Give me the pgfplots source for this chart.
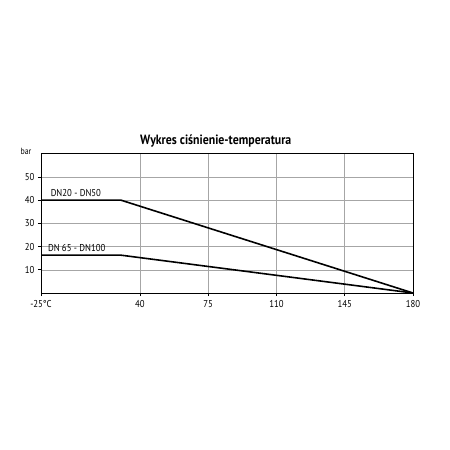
\documentclass[border=0pt]{standalone}
\usepackage{pgfplots}
\pgfplotsset{compat=1.18}
\usepackage{fontspec}
\setmainfont{PT Sans}[FakeStretch=0.88]
\begin{document}
\begin{tikzpicture}
\path[use as bounding box] (0,0) rectangle (450bp,-450bp);
\begin{axis}[
  at={(41bp,-293bp)}, anchor=south west,
  width=372bp, height=140bp, scale only axis,
  xmin=0, xmax=5.45, ymin=0, ymax=60.3,
  xtick={0,1.45,2.45,3.45,4.45,5.45},
  xticklabels={-25°C,40,75,110,145,180},
  ytick={10,20,30,40,50},
  grid=major,
  major grid style={gray!70, line width=0.5pt},
  axis line style={black, line width=1pt},
  tick style={black, line width=0.6pt},
  tick align=outside,
  major tick length=3bp,
  xtick pos=bottom, ytick pos=left,
  ticklabel style={font=\fontsize{10}{12}\selectfont},
  /pgf/number format/assume math mode=true,
  xticklabel style={yshift=-1bp},
  clip=false,
]
\addplot[black, line width=1.6pt] coordinates {(0,40) (1.17,40) (5.45,0)};
\addplot[black, line width=1.6pt] coordinates {(0,16.3) (1.17,16.3) (5.45,0)};
\node[anchor=west, font=\fontsize{10}{12}\selectfont, inner sep=0pt] at (axis cs:0.14,42.9) {DN20 - DN50};
\node[anchor=west, font=\fontsize{10}{12}\selectfont, inner sep=0pt] at (axis cs:0.1,19.5) {DN 65 - DN100};
\node[font=\fontsize{9}{11}\selectfont, inner sep=0pt] at (axis cs:-0.22,60.8) {bar};
\node[font=\bfseries\fontsize{13.5}{15}\selectfont, inner sep=0pt] at (axis cs:2.56,65.5) {Wykres ciśnienie-temperatura};
\end{axis}
\end{tikzpicture}
\end{document}
